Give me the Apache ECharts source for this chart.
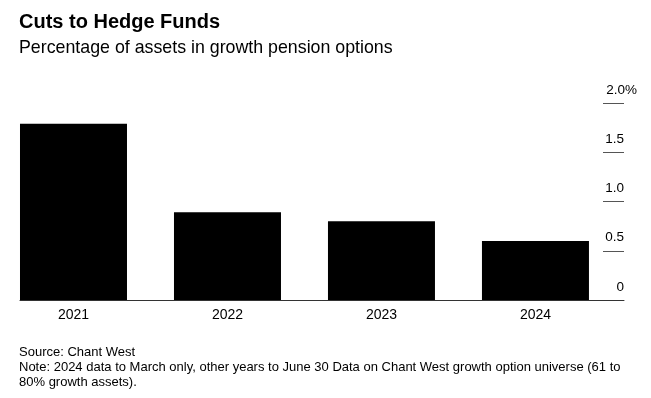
<!DOCTYPE html>
<html>
<head>
<meta charset="utf-8">
<script src="https://cdn.jsdelivr.net/npm/echarts@6/dist/echarts.min.js"></script>
<style>
  html, body { margin: 0; padding: 0; background: #fff; }
  #chart { width: 651px; height: 398px; }
</style>
</head>
<body>
<div id="chart"></div>
<script>
// data
var years = ['2021', '2022', '2023', '2024'];
var hedgeShare = [1.79, 0.89, 0.8, 0.6]; // % of assets
var yTicks = [0, 0.5, 1.0, 1.5, 2.0];

var font = '"Liberation Sans", Arial, sans-serif';
var chart = echarts.init(document.getElementById('chart'));

// bars sit on a value axis (one unit per year) so the first bar can touch the left edge of the baseline
var barData = years.map(function (y, i) { return [i, hedgeShare[i]]; });

var option = {
    backgroundColor: '#fff',
    animation: false,
    textStyle: { fontFamily: font },
    title: [
        { text: 'Cuts to Hedge Funds', left: 19, top: 12, padding: 0,
          textStyle: { fontSize: 20, fontWeight: 'bold', color: '#000', fontFamily: font } },
        { text: 'Percentage of assets in growth pension options', left: 19, top: 39, padding: 0,
          textStyle: { fontSize: 17.8, fontWeight: 'normal', color: '#000', fontFamily: font } },
        { text: 'Source: Chant West', left: 19, top: 346, padding: 0,
          textStyle: { fontSize: 13, fontWeight: 'normal', color: '#000', fontFamily: font } },
        { text: 'Note: 2024 data to March only, other years to June 30 Data on Chant West growth option universe (61 to\n80% growth assets).',
          left: 19, top: 360, padding: 0,
          textStyle: { fontSize: 13, fontWeight: 'normal', color: '#000', lineHeight: 15, fontFamily: font } }
    ],
    grid: [
        { left: 20, width: 604, top: 103, bottom: 98 },     // bars + baseline
        { left: 603, width: 21, top: 103, bottom: 98 }      // value axis
    ],
    xAxis: [
        { type: 'value', gridIndex: 0, min: -0.3474, max: 3.575,
          axisLine: { show: true, onZero: false, lineStyle: { color: '#333', width: 1 } },
          axisTick: { show: false }, splitLine: { show: false },
          axisLabel: {
              color: '#000', fontSize: 14, margin: 8,
              customValues: [0, 1, 2, 3],
              formatter: function (v) { return years[Math.round(v)]; }
          } },
        { type: 'value', gridIndex: 1, min: 0, max: 1, show: false }
    ],
    yAxis: [
        { type: 'value', gridIndex: 0, min: 0, max: 2, interval: 0.5, show: false },
        { type: 'value', gridIndex: 1, min: 0, max: 2, interval: 0.5, position: 'right',
          axisLine: { show: false }, axisTick: { show: false },
          splitLine: { show: true, lineStyle: { color: '#555', width: 1 } },
          axisLabel: {
              inside: true, margin: -13, verticalAlign: 'bottom',
              color: '#000', fontSize: 13.5, padding: [0, 0, 6, 0],
              formatter: function (v) {
                  if (v === yTicks[yTicks.length - 1]) return v.toFixed(1) + '%';
                  return '{n|' + (v === 0 ? '0' : v.toFixed(1)) + '}';
              },
              rich: { n: { fontSize: 13.5, color: '#000', padding: [0, 13, 0, 0] } }
          } }
    ],
    series: [{
        type: 'bar',
        xAxisIndex: 0, yAxisIndex: 0,
        data: barData,
        barWidth: 107,
        itemStyle: { color: '#000' }
    }]
};

chart.setOption(option);
</script>
</body>
</html>
